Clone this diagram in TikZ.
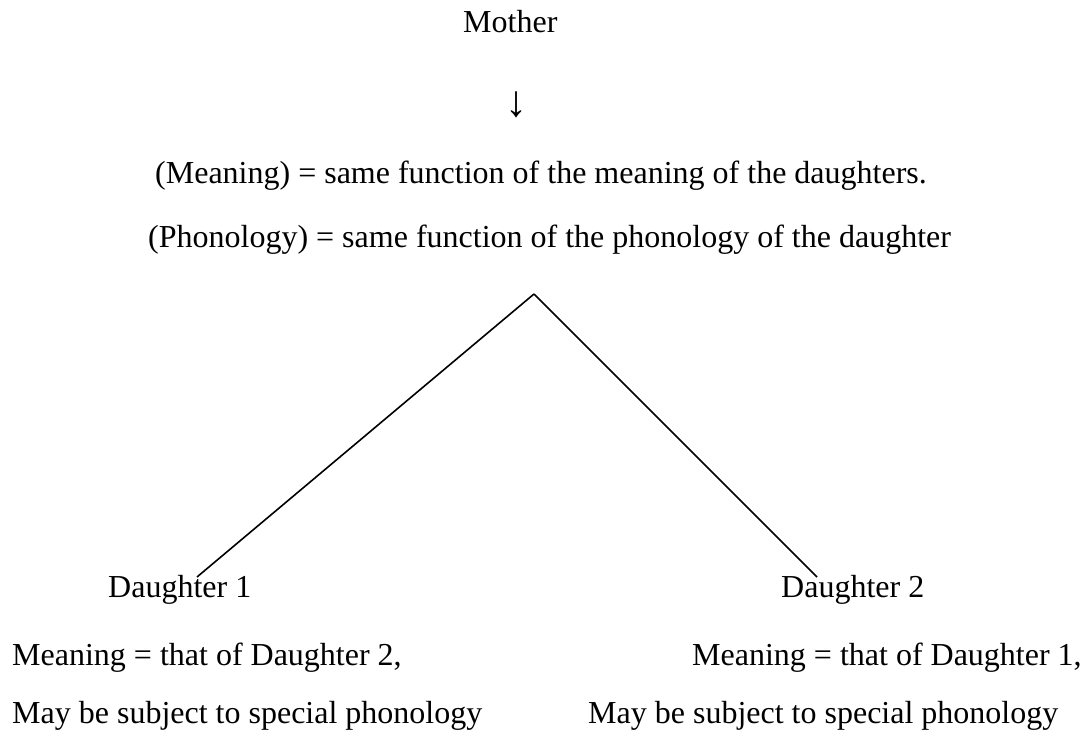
\documentclass[tikz,border=0pt]{standalone}
\usepackage{fontspec}
\setmainfont{Liberation Serif}
\begin{document}
\begin{tikzpicture}[x=1pt,y=-1pt, txt/.style={anchor=base west, inner sep=0pt, font=\fontsize{32}{38}\selectfont}]
\useasboundingbox (0,0) rectangle (1082,742);
\node[txt] (mother) at (463,32){Mother};
\node[txt, anchor=base, font=\fontsize{44}{48}\selectfont] (arrow) at (516,116){↓};
\node[txt] (mmean) at (155,183){(Meaning) = same function of the meaning of the daughters.};
\node[txt] (mphon) at (148,247){(Phonology) = same function of the phonology of the daughter};
\coordinate (apex) at (534,294);
\node[txt] (dau1) at (108,597){Daughter 1};
\coordinate (dau1top) at (197,577);
\node[txt] (dau2) at (781,597){Daughter 2};
\coordinate (dau2top) at (817,577);
\draw[line width=1.6pt](apex) -- (dau1top);
\draw[line width=1.6pt](apex) -- (dau2top);
\node[txt] (mean1) at (12,665){Meaning = that of Daughter 2,};
\node[txt] (phon1) at (12,723){May be subject to special phonology};
\node[txt] (mean2) at (692,665){Meaning = that of Daughter 1,};
\node[txt] (phon2) at (588,723){May be subject to special phonology};
\end{tikzpicture}
\end{document}
